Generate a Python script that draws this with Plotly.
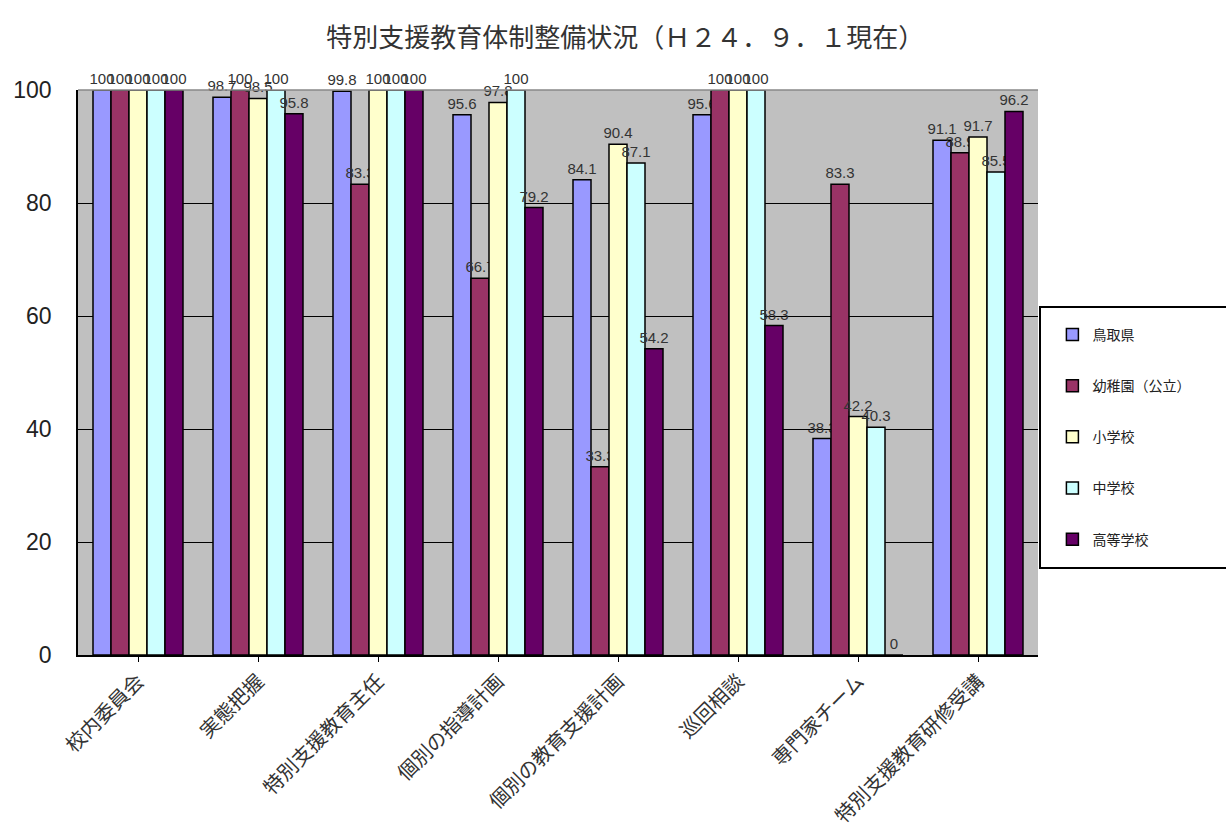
import plotly.graph_objects as go

categories = ["校内委員会", "実態把握", "特別支援教育主任", "個別の指導計画",
              "個別の教育支援計画", "巡回相談", "専門家チーム", "特別支援教育研修受講"]
series_names = ["鳥取県", "幼稚園（公立）", "小学校", "中学校", "高等学校"]
tottori = [100, 98.7, 99.8, 95.6, 84.1, 95.6, 38.3, 91.1]
kinder = [100, 100, 83.3, 66.7, 33.3, 100, 83.3, 88.9]
elementary = [100, 98.5, 100, 97.8, 90.4, 100, 42.2, 91.7]
junior = [100, 100, 100, 100, 87.1, 100, 40.3, 85.5]
high = [100, 95.8, 100, 79.2, 54.2, 58.3, 0, 96.2]
series_values = [tottori, kinder, elementary, junior, high]
colors = ["#9999ff", "#993366", "#ffffcc", "#ccffff", "#660066"]
y_ticks = [0, 20, 40, 60, 80, 100]

jp = "Noto Sans CJK JP"
fig = go.Figure()
for i, (name, vals, col) in enumerate(zip(series_names, series_values, colors)):
    fig.add_trace(go.Bar(
        x=categories, y=vals, name=name,
        marker=dict(color=col, line=dict(color="#000000", width=1.5)),
        text=[f"{v:g}" for v in vals], textposition="outside",
        textfont=dict(family="Liberation Sans", size=15, color="#333333"),
        constraintext="none", cliponaxis=False,
        legendgroup=f"g{i}",
    ))

fig.update_layout(
    width=1226, height=840,
    margin=dict(l=78, r=188, t=90, b=185, autoexpand=False),
    paper_bgcolor="white", plot_bgcolor="#c0c0c0",
    barmode="group", bargap=0.25, bargroupgap=0,
    title=dict(text="特別支援教育体制整備状況（Ｈ２４．９．１現在）", x=0.51, xanchor="center",
               y=0.955, yanchor="middle",
               font=dict(family=jp, size=26, color="#333333")),
    showlegend=True,
    legend=dict(x=1.015, xanchor="left", y=0.595, yanchor="top",
                borderwidth=0, bgcolor="rgba(0,0,0,0)",
                font=dict(family=jp, size=14, color="#222222"),
                tracegroupgap=30, itemwidth=30),
    yaxis=dict(range=[0, 100], tickvals=y_ticks, showgrid=True, gridcolor="#000000",
               gridwidth=1, showline=True, linecolor="#000000", linewidth=1.5,
               ticks="", ticklabelstandoff=20, automargin=False,
               tickfont=dict(family="Liberation Sans", size=23, color="#222222"),
               zeroline=False, mirror=False),
    xaxis=dict(tickangle=-45, showline=True, linecolor="#000000", linewidth=1.5,
               ticks="outside", ticklen=5, tickcolor="#000000", automargin=False,
               tickfont=dict(family=jp, size=20, color="#333333")),
)
fig.add_shape(type="line", xref="paper", yref="paper", x0=0, x1=1, y0=1, y1=1,
              line=dict(color="#888888", width=1.5))
fig.add_shape(type="rect", xref="paper", yref="paper",
              x0=(1040 - 78) / 960, x1=(1228 - 78) / 960,
              y0=(655 - 568) / 565, y1=(655 - 307) / 565,
              line=dict(color="#000000", width=2), fillcolor="rgba(0,0,0,0)", layer="above")
fig.write_html("out.html")
